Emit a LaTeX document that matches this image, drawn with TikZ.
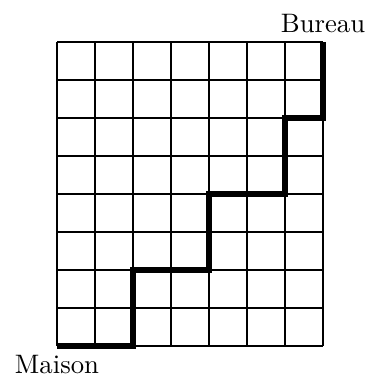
\documentclass[tikz,border=0pt]{standalone}
\begin{document}
\begin{tikzpicture}[x=0.5cm,y=0.5cm,
  route/.style={line width=2pt},
  gridline/.style={line width=0.4pt}]
\useasboundingbox (-1.5,-0.789) rectangle (8.158,9.105);
\draw[gridline,step=0.5cm] (0,0) grid (7,8);
\coordinate (M) at (0,0);
\coordinate (B) at (7,8);
\coordinate (c1) at (2,2);
\coordinate (c2) at (4,4);
\coordinate (c3) at (6,6);
\node[below] (maison) at (M) {Maison};
\node[above] (bureau) at (B) {Bureau};
\draw[route] (M) -| (c1) -| (c2) -| (c3) -| (B);
\end{tikzpicture}
\end{document}
